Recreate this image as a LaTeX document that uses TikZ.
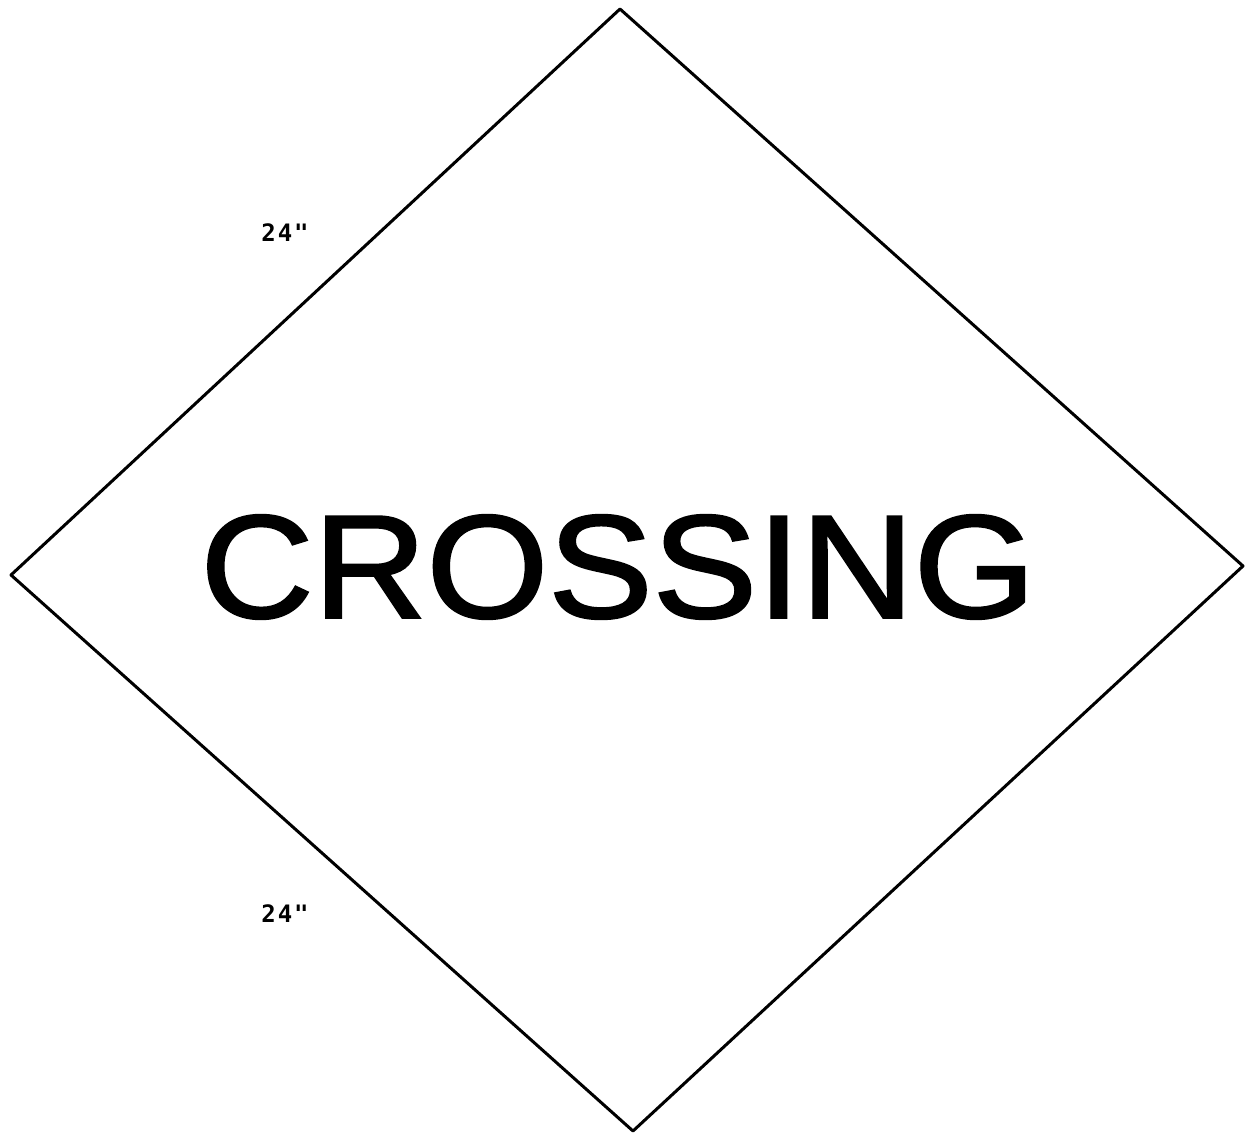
\documentclass[tikz,border=0pt]{standalone}
\usepackage{fontspec}
\setmainfont{Liberation Sans}
\newfontfamily\signfont[FakeBold=1.6]{Liberation Sans}
\newfontfamily\labfont[LetterSpace=8]{DejaVu Sans Mono}
\begin{document}
\begin{tikzpicture}[x=1pt,y=-1pt,
  outline/.style={line width=3pt, line join=round, line cap=round},
  dimlabel/.style={font=\labfont\bfseries\fontsize{24}{24}\selectfont, inner sep=0pt},
  signtext/.style={font=\signfont\fontsize{147}{147}\selectfont, inner sep=0pt, xscale=1.065}]
\useasboundingbox (0,0) rectangle (1248,1135);
\coordinate (T) at (620,9);
\coordinate (R) at (1243,566);
\coordinate (B) at (633,1131);
\coordinate (L) at (11,575);
\draw[outline] (T) -- (R) -- (B) -- (L) -- cycle;
\node[signtext] (word) at (618,567) {CROSSING};
\node[dimlabel] (d1) at (285,233) {24"};
\node[dimlabel] (d2) at (285,914) {24"};
\end{tikzpicture}
\end{document}
